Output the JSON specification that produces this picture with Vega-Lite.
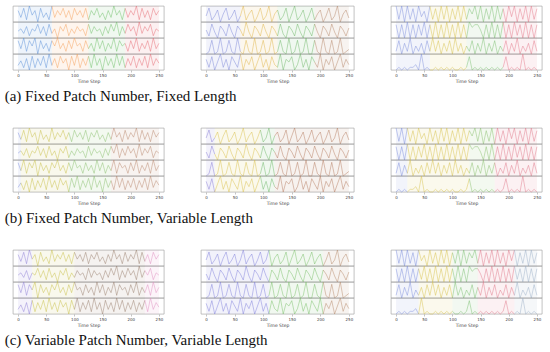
{
"$schema":"https://vega.github.io/schema/vega-lite/v6.json",
"padding":{"left":4,"top":4,"right":0,"bottom":0},
"background":"white",
"config":{"view":{"stroke":"#999","strokeWidth":0.6},"facet":{"spacing":0},
"axis":{"grid":false,"labelFontSize":4,"titleFontSize":4.5,"tickSize":2,"labelPadding":1,"titlePadding":1,"domain":false,"tickColor":"#888","tickWidth":0.5,"labelColor":"#444","titleColor":"#444","titleFontWeight":"normal","labelFont":"DejaVu Sans","titleFont":"DejaVu Sans","labelOverlap":false,"labelBound":false,"values":[0,50,100,150,200,250]}},
"datasets":{
"col1":[
{"t":0,"a":6,"b":4,"c":7,"d":3,"pa":1,"pb":1,"pc":1},
{"t":5,"a":3,"b":5,"c":4,"d":5,"pa":1,"pb":1,"pc":1},
{"t":5,"a":3,"b":5,"c":4,"d":5,"pa":1,"pb":2,"pc":1},
{"t":10,"a":7,"b":3,"c":8,"d":2,"pa":1,"pb":2,"pc":1},
{"t":15,"a":2,"b":6,"c":3,"d":6,"pa":1,"pb":2,"pc":1},
{"t":20,"a":8,"b":2,"c":7,"d":1,"pa":1,"pb":2,"pc":1},
{"t":25,"a":4,"b":5,"c":5,"d":7,"pa":1,"pb":2,"pc":1},
{"t":25,"a":4,"b":5,"c":5,"d":7,"pa":1,"pb":2,"pc":2},
{"t":30,"a":6,"b":4,"c":8,"d":2,"pa":1,"pb":2,"pc":2},
{"t":35,"a":1,"b":7,"c":2,"d":6,"pa":1,"pb":2,"pc":2},
{"t":40,"a":7,"b":3,"c":7,"d":3,"pa":1,"pb":2,"pc":2},
{"t":45,"a":3,"b":6,"c":4,"d":7,"pa":1,"pb":2,"pc":2},
{"t":50,"a":5,"b":2,"c":6,"d":2,"pa":1,"pb":2,"pc":2},
{"t":55,"a":2,"b":7,"c":3,"d":8,"pa":1,"pb":2,"pc":2},
{"t":60,"a":8,"b":3,"c":7,"d":3,"pa":1,"pb":2,"pc":2},
{"t":60,"a":8,"b":3,"c":7,"d":3,"pa":2,"pb":2,"pc":2},
{"t":65,"a":3,"b":5,"c":5,"d":6,"pa":2,"pb":2,"pc":2},
{"t":70,"a":6,"b":1,"c":8,"d":2,"pa":2,"pb":2,"pc":2},
{"t":75,"a":4,"b":6,"c":4,"d":7,"pa":2,"pb":2,"pc":2},
{"t":80,"a":7,"b":4,"c":6,"d":4,"pa":2,"pb":2,"pc":2},
{"t":85,"a":3,"b":7,"c":3,"d":6,"pa":2,"pb":2,"pc":2},
{"t":90,"a":6,"b":2,"c":7,"d":1,"pa":2,"pb":2,"pc":2},
{"t":90,"a":6,"b":2,"c":7,"d":1,"pa":2,"pb":3,"pc":2},
{"t":95,"a":2,"b":5,"c":4,"d":7,"pa":2,"pb":3,"pc":2},
{"t":100,"a":7,"b":3,"c":8,"d":3,"pa":2,"pb":3,"pc":2},
{"t":100,"a":7,"b":3,"c":8,"d":3,"pa":2,"pb":3,"pc":3},
{"t":105,"a":4,"b":6,"c":5,"d":8,"pa":2,"pb":3,"pc":3},
{"t":110,"a":6,"b":4,"c":6,"d":2,"pa":2,"pb":3,"pc":3},
{"t":115,"a":3,"b":5,"c":3,"d":6,"pa":2,"pb":3,"pc":3},
{"t":120,"a":7,"b":2,"c":7,"d":3,"pa":2,"pb":3,"pc":3},
{"t":125,"a":2,"b":7,"c":4,"d":7,"pa":2,"pb":3,"pc":3},
{"t":125,"a":2,"b":7,"c":4,"d":7,"pa":3,"pb":3,"pc":3},
{"t":130,"a":6,"b":3,"c":6,"d":2,"pa":3,"pb":3,"pc":3},
{"t":135,"a":4,"b":6,"c":3,"d":8,"pa":3,"pb":3,"pc":3},
{"t":140,"a":7,"b":4,"c":8,"d":3,"pa":3,"pb":3,"pc":3},
{"t":145,"a":3,"b":5,"c":4,"d":6,"pa":3,"pb":3,"pc":3},
{"t":150,"a":5,"b":2,"c":7,"d":1,"pa":3,"pb":3,"pc":3},
{"t":155,"a":2,"b":6,"c":3,"d":7,"pa":3,"pb":3,"pc":3},
{"t":160,"a":6,"b":3,"c":6,"d":3,"pa":3,"pb":3,"pc":3},
{"t":165,"a":3,"b":7,"c":4,"d":6,"pa":3,"pb":3,"pc":3},
{"t":165,"a":3,"b":7,"c":4,"d":6,"pa":3,"pb":4,"pc":3},
{"t":170,"a":8,"b":4,"c":8,"d":2,"pa":3,"pb":4,"pc":3},
{"t":175,"a":4,"b":8,"c":3,"d":8,"pa":3,"pb":4,"pc":3},
{"t":180,"a":6,"b":2,"c":7,"d":3,"pa":3,"pb":4,"pc":3},
{"t":185,"a":2,"b":6,"c":5,"d":7,"pa":3,"pb":4,"pc":3},
{"t":190,"a":7,"b":3,"c":6,"d":2,"pa":3,"pb":4,"pc":3},
{"t":190,"a":7,"b":3,"c":6,"d":2,"pa":4,"pb":4,"pc":3},
{"t":195,"a":3,"b":7,"c":3,"d":6,"pa":4,"pb":4,"pc":3},
{"t":200,"a":6,"b":4,"c":7,"d":3,"pa":4,"pb":4,"pc":3},
{"t":205,"a":4,"b":6,"c":4,"d":7,"pa":4,"pb":4,"pc":3},
{"t":210,"a":8,"b":2,"c":8,"d":2,"pa":4,"pb":4,"pc":3},
{"t":215,"a":2,"b":8,"c":3,"d":6,"pa":4,"pb":4,"pc":3},
{"t":220,"a":7,"b":3,"c":6,"d":3,"pa":4,"pb":4,"pc":3},
{"t":225,"a":3,"b":6,"c":4,"d":7,"pa":4,"pb":4,"pc":3},
{"t":225,"a":3,"b":6,"c":4,"d":7,"pa":4,"pb":4,"pc":4},
{"t":230,"a":6,"b":4,"c":7,"d":2,"pa":4,"pb":4,"pc":4},
{"t":235,"a":2,"b":7,"c":3,"d":8,"pa":4,"pb":4,"pc":4},
{"t":240,"a":7,"b":2,"c":8,"d":3,"pa":4,"pb":4,"pc":4},
{"t":245,"a":4,"b":5,"c":4,"d":6,"pa":4,"pb":4,"pc":4},
{"t":250,"a":6,"b":4,"c":6,"d":4,"pa":4,"pb":4,"pc":4}
],
"col2":[
{"t":0,"a":4,"b":5,"c":2,"d":6,"pa":1,"pb":1,"pc":1},
{"t":5,"a":8,"b":2,"c":3,"d":3,"pa":1,"pb":1,"pc":1},
{"t":10,"a":2,"b":8,"c":8,"d":7,"pa":1,"pb":1,"pc":1},
{"t":15,"a":4,"b":4,"c":2,"d":2,"pa":1,"pb":1,"pc":1},
{"t":15,"a":4,"b":4,"c":2,"d":2,"pa":1,"pb":2,"pc":1},
{"t":20,"a":7,"b":1,"c":3,"d":5,"pa":1,"pb":2,"pc":1},
{"t":25,"a":1,"b":7,"c":9,"d":8,"pa":1,"pb":2,"pc":1},
{"t":30,"a":5,"b":5,"c":2,"d":3,"pa":1,"pb":2,"pc":1},
{"t":35,"a":8,"b":2,"c":3,"d":6,"pa":1,"pb":2,"pc":1},
{"t":40,"a":2,"b":8,"c":8,"d":2,"pa":1,"pb":2,"pc":1},
{"t":45,"a":4,"b":4,"c":3,"d":7,"pa":1,"pb":2,"pc":1},
{"t":50,"a":7,"b":1,"c":2,"d":5,"pa":1,"pb":2,"pc":1},
{"t":55,"a":1,"b":7,"c":9,"d":3,"pa":1,"pb":2,"pc":1},
{"t":60,"a":4,"b":5,"c":3,"d":8,"pa":1,"pb":2,"pc":1},
{"t":60,"a":4,"b":5,"c":3,"d":8,"pa":2,"pb":2,"pc":1},
{"t":65,"a":9,"b":2,"c":2,"d":2,"pa":2,"pb":2,"pc":1},
{"t":70,"a":2,"b":9,"c":8,"d":6,"pa":2,"pb":2,"pc":1},
{"t":75,"a":5,"b":4,"c":3,"d":4,"pa":2,"pb":2,"pc":1},
{"t":80,"a":7,"b":1,"c":2,"d":7,"pa":2,"pb":2,"pc":1},
{"t":85,"a":1,"b":7,"c":9,"d":2,"pa":2,"pb":2,"pc":1},
{"t":90,"a":4,"b":5,"c":2,"d":5,"pa":2,"pb":2,"pc":1},
{"t":95,"a":8,"b":2,"c":3,"d":8,"pa":2,"pb":2,"pc":1},
{"t":95,"a":8,"b":2,"c":3,"d":8,"pa":2,"pb":3,"pc":1},
{"t":100,"a":2,"b":8,"c":8,"d":3,"pa":2,"pb":3,"pc":1},
{"t":105,"a":4,"b":4,"c":2,"d":6,"pa":2,"pb":3,"pc":1},
{"t":110,"a":9,"b":1,"c":3,"d":2,"pa":2,"pb":3,"pc":1},
{"t":110,"a":9,"b":1,"c":3,"d":2,"pa":2,"pb":3,"pc":2},
{"t":115,"a":1,"b":7,"c":9,"d":7,"pa":2,"pb":3,"pc":2},
{"t":120,"a":5,"b":5,"c":2,"d":4,"pa":2,"pb":3,"pc":2},
{"t":120,"a":5,"b":5,"c":2,"d":4,"pa":2,"pb":4,"pc":2},
{"t":125,"a":7,"b":2,"c":3,"d":3,"pa":2,"pb":4,"pc":2},
{"t":125,"a":7,"b":2,"c":3,"d":3,"pa":3,"pb":4,"pc":2},
{"t":130,"a":2,"b":8,"c":8,"d":8,"pa":3,"pb":4,"pc":2},
{"t":135,"a":4,"b":3,"c":3,"d":2,"pa":3,"pb":4,"pc":2},
{"t":140,"a":8,"b":1,"c":2,"d":6,"pa":3,"pb":4,"pc":2},
{"t":145,"a":1,"b":7,"c":9,"d":5,"pa":3,"pb":4,"pc":2},
{"t":150,"a":5,"b":5,"c":2,"d":7,"pa":3,"pb":4,"pc":2},
{"t":155,"a":9,"b":2,"c":3,"d":2,"pa":3,"pb":4,"pc":2},
{"t":160,"a":2,"b":8,"c":8,"d":4,"pa":3,"pb":4,"pc":2},
{"t":165,"a":4,"b":4,"c":2,"d":8,"pa":3,"pb":4,"pc":2},
{"t":170,"a":7,"b":1,"c":3,"d":3,"pa":3,"pb":4,"pc":2},
{"t":175,"a":1,"b":7,"c":9,"d":6,"pa":3,"pb":4,"pc":2},
{"t":180,"a":4,"b":5,"c":2,"d":2,"pa":3,"pb":4,"pc":2},
{"t":185,"a":8,"b":2,"c":2,"d":7,"pa":3,"pb":4,"pc":2},
{"t":190,"a":2,"b":8,"c":8,"d":5,"pa":3,"pb":4,"pc":2},
{"t":190,"a":2,"b":8,"c":8,"d":5,"pa":4,"pb":4,"pc":2},
{"t":195,"a":5,"b":4,"c":3,"d":3,"pa":4,"pb":4,"pc":2},
{"t":200,"a":7,"b":1,"c":2,"d":8,"pa":4,"pb":4,"pc":2},
{"t":205,"a":1,"b":7,"c":9,"d":2,"pa":4,"pb":4,"pc":2},
{"t":205,"a":1,"b":7,"c":9,"d":2,"pa":4,"pb":4,"pc":3},
{"t":210,"a":4,"b":5,"c":3,"d":6,"pa":4,"pb":4,"pc":3},
{"t":215,"a":8,"b":2,"c":2,"d":4,"pa":4,"pb":4,"pc":3},
{"t":220,"a":2,"b":8,"c":8,"d":7,"pa":4,"pb":4,"pc":3},
{"t":225,"a":4,"b":4,"c":2,"d":2,"pa":4,"pb":4,"pc":3},
{"t":230,"a":9,"b":1,"c":3,"d":5,"pa":4,"pb":4,"pc":3},
{"t":235,"a":1,"b":7,"c":9,"d":8,"pa":4,"pb":4,"pc":3},
{"t":240,"a":5,"b":5,"c":2,"d":3,"pa":4,"pb":4,"pc":3},
{"t":245,"a":7,"b":2,"c":3,"d":6,"pa":4,"pb":4,"pc":3},
{"t":250,"a":3,"b":6,"c":4,"d":4,"pa":4,"pb":4,"pc":3}
],
"col3":[
{"t":0,"a":8,"b":7,"c":3,"d":2,"pa":1,"pb":1,"pc":1},
{"t":5,"a":3,"b":2,"c":7,"d":3,"pa":1,"pb":1,"pc":1},
{"t":10,"a":8,"b":7,"c":2,"d":2,"pa":1,"pb":1,"pc":1},
{"t":15,"a":2,"b":2,"c":6,"d":3,"pa":1,"pb":1,"pc":1},
{"t":20,"a":8,"b":8,"c":3,"d":2,"pa":1,"pb":1,"pc":1},
{"t":20,"a":8,"b":8,"c":3,"d":2,"pa":1,"pb":2,"pc":1},
{"t":25,"a":3,"b":2,"c":8,"d":3,"pa":1,"pb":2,"pc":1},
{"t":30,"a":7,"b":7,"c":2,"d":3,"pa":1,"pb":2,"pc":1},
{"t":35,"a":2,"b":2,"c":5,"d":4,"pa":1,"pb":2,"pc":1},
{"t":40,"a":8,"b":7,"c":3,"d":2,"pa":1,"pb":2,"pc":1},
{"t":40,"a":8,"b":7,"c":3,"d":2,"pa":1,"pb":2,"pc":2},
{"t":45,"a":4,"b":3,"c":6,"d":8,"pa":1,"pb":2,"pc":2},
{"t":50,"a":6,"b":8,"c":2,"d":2,"pa":1,"pb":2,"pc":2},
{"t":55,"a":2,"b":2,"c":7,"d":3,"pa":1,"pb":2,"pc":2},
{"t":60,"a":8,"b":7,"c":3,"d":2,"pa":1,"pb":2,"pc":2},
{"t":60,"a":8,"b":7,"c":3,"d":2,"pa":2,"pb":2,"pc":2},
{"t":65,"a":3,"b":2,"c":8,"d":2,"pa":2,"pb":2,"pc":2},
{"t":70,"a":7,"b":8,"c":3,"d":3,"pa":2,"pb":2,"pc":2},
{"t":75,"a":2,"b":2,"c":7,"d":2,"pa":2,"pb":2,"pc":2},
{"t":80,"a":8,"b":7,"c":2,"d":3,"pa":2,"pb":2,"pc":2},
{"t":85,"a":3,"b":2,"c":6,"d":2,"pa":2,"pb":2,"pc":2},
{"t":90,"a":8,"b":8,"c":3,"d":3,"pa":2,"pb":2,"pc":2},
{"t":95,"a":2,"b":2,"c":7,"d":2,"pa":2,"pb":2,"pc":2},
{"t":100,"a":7,"b":7,"c":2,"d":3,"pa":2,"pb":2,"pc":2},
{"t":100,"a":7,"b":7,"c":2,"d":3,"pa":2,"pb":2,"pc":3},
{"t":105,"a":3,"b":2,"c":8,"d":2,"pa":2,"pb":2,"pc":3},
{"t":110,"a":8,"b":8,"c":3,"d":2,"pa":2,"pb":2,"pc":3},
{"t":115,"a":2,"b":2,"c":6,"d":3,"pa":2,"pb":2,"pc":3},
{"t":120,"a":8,"b":7,"c":2,"d":2,"pa":2,"pb":2,"pc":3},
{"t":125,"a":3,"b":2,"c":5,"d":3,"pa":2,"pb":2,"pc":3},
{"t":125,"a":3,"b":2,"c":5,"d":3,"pa":3,"pb":2,"pc":3},
{"t":130,"a":7,"b":8,"c":3,"d":7,"pa":3,"pb":2,"pc":3},
{"t":130,"a":7,"b":8,"c":3,"d":7,"pa":3,"pb":3,"pc":3},
{"t":135,"a":5,"b":6,"c":7,"d":2,"pa":3,"pb":3,"pc":3},
{"t":140,"a":8,"b":7,"c":2,"d":3,"pa":3,"pb":3,"pc":3},
{"t":145,"a":3,"b":7,"c":6,"d":2,"pa":3,"pb":3,"pc":3},
{"t":145,"a":3,"b":7,"c":6,"d":2,"pa":3,"pb":3,"pc":4},
{"t":150,"a":8,"b":5,"c":3,"d":3,"pa":3,"pb":3,"pc":4},
{"t":155,"a":2,"b":2,"c":8,"d":2,"pa":3,"pb":3,"pc":4},
{"t":160,"a":7,"b":7,"c":2,"d":3,"pa":3,"pb":3,"pc":4},
{"t":165,"a":3,"b":2,"c":6,"d":2,"pa":3,"pb":3,"pc":4},
{"t":170,"a":8,"b":8,"c":3,"d":3,"pa":3,"pb":3,"pc":4},
{"t":175,"a":2,"b":2,"c":7,"d":2,"pa":3,"pb":3,"pc":4},
{"t":175,"a":2,"b":2,"c":7,"d":2,"pa":3,"pb":4,"pc":4},
{"t":180,"a":8,"b":7,"c":2,"d":3,"pa":3,"pb":4,"pc":4},
{"t":185,"a":3,"b":2,"c":5,"d":2,"pa":3,"pb":4,"pc":4},
{"t":190,"a":7,"b":8,"c":3,"d":3,"pa":3,"pb":4,"pc":4},
{"t":190,"a":7,"b":8,"c":3,"d":3,"pa":4,"pb":4,"pc":4},
{"t":195,"a":2,"b":2,"c":7,"d":7,"pa":4,"pb":4,"pc":4},
{"t":200,"a":8,"b":7,"c":2,"d":2,"pa":4,"pb":4,"pc":4},
{"t":205,"a":4,"b":2,"c":6,"d":3,"pa":4,"pb":4,"pc":4},
{"t":210,"a":8,"b":8,"c":3,"d":2,"pa":4,"pb":4,"pc":4},
{"t":210,"a":8,"b":8,"c":3,"d":2,"pa":4,"pb":4,"pc":5},
{"t":215,"a":2,"b":3,"c":8,"d":3,"pa":4,"pb":4,"pc":5},
{"t":220,"a":7,"b":7,"c":2,"d":2,"pa":4,"pb":4,"pc":5},
{"t":225,"a":3,"b":2,"c":5,"d":8,"pa":4,"pb":4,"pc":5},
{"t":230,"a":8,"b":8,"c":3,"d":2,"pa":4,"pb":4,"pc":5},
{"t":235,"a":2,"b":2,"c":6,"d":3,"pa":4,"pb":4,"pc":5},
{"t":240,"a":8,"b":7,"c":2,"d":2,"pa":4,"pb":4,"pc":5},
{"t":245,"a":3,"b":2,"c":7,"d":3,"pa":4,"pb":4,"pc":5},
{"t":250,"a":7,"b":7,"c":3,"d":2,"pa":4,"pb":4,"pc":5}
]},
"resolve":{"scale":{"color":"independent"}},
"spacing":22,
"vconcat":[
{"spacing":35,"resolve":{"scale":{"color":"independent"}},
"title":{"text":"(a) Fixed Patch Number, Fixed Length","orient":"bottom","anchor":"start","font":"Liberation Serif","fontSize":15,"fontWeight":"normal","color":"#111","offset":6,"dx":-8},
"hconcat":[
{"data":{"name":"col1"},"transform":[{"fold":["a","b","c","d"],"as":["s","v"]}],"facet":{"row":{"field":"s","type":"nominal","header":null}},"spacing":0,"bounds":"flush","resolve":{"scale":{"y":"independent"}},
"spec":{"width":151,"height":16,"layer":[
{"transform":[{"aggregate":[{"op":"min","field":"t","as":"t0"},{"op":"max","field":"t","as":"t1"}],"groupby":["pa","s"]}],"mark":{"type":"rect","opacity":0.1},"encoding":{"x":{"field":"t0","type":"quantitative","title":"Time Step"},"x2":{"field":"t1"},"color":{"field":"pa","type":"nominal","legend":null,"scale":{"range":["#5b8fd6","#f5a05a","#6fbf6a","#e56b73"]}}}},
{"mark":{"type":"line","strokeWidth":0.6,"opacity":0.8},"encoding":{"x":{"field":"t","type":"quantitative","title":"Time Step","scale":{"domain":[-9,259],"nice":false,"zero":false}},"y":{"field":"v","type":"quantitative","axis":null,"scale":{"zero":false}},"color":{"field":"pa","type":"nominal","legend":null,"scale":{"range":["#5b8fd6","#f5a05a","#6fbf6a","#e56b73"]}}}}]}},
{"data":{"name":"col2"},"transform":[{"fold":["a","b","c","d"],"as":["s","v"]}],"facet":{"row":{"field":"s","type":"nominal","header":null}},"spacing":0,"bounds":"flush","resolve":{"scale":{"y":"independent"}},
"spec":{"width":153,"height":16,"layer":[
{"transform":[{"aggregate":[{"op":"min","field":"t","as":"t0"},{"op":"max","field":"t","as":"t1"}],"groupby":["pa","s"]}],"mark":{"type":"rect","opacity":0.1},"encoding":{"x":{"field":"t0","type":"quantitative","title":"Time Step"},"x2":{"field":"t1"},"color":{"field":"pa","type":"nominal","legend":null,"scale":{"range":["#7c86d8","#e0b54a","#6fb86a","#b5876a"]}}}},
{"mark":{"type":"line","strokeWidth":0.6,"opacity":0.8},"encoding":{"x":{"field":"t","type":"quantitative","title":"Time Step","scale":{"domain":[-9,259],"nice":false,"zero":false}},"y":{"field":"v","type":"quantitative","axis":null,"scale":{"zero":false}},"color":{"field":"pa","type":"nominal","legend":null,"scale":{"range":["#7c86d8","#e0b54a","#6fb86a","#b5876a"]}}}}]}},
{"data":{"name":"col3"},"transform":[{"fold":["a","b","c","d"],"as":["s","v"]}],"facet":{"row":{"field":"s","type":"nominal","header":null}},"spacing":0,"bounds":"flush","resolve":{"scale":{"y":"independent"}},
"spec":{"width":151,"height":16,"layer":[
{"transform":[{"aggregate":[{"op":"min","field":"t","as":"t0"},{"op":"max","field":"t","as":"t1"}],"groupby":["pa","s"]}],"mark":{"type":"rect","opacity":0.1},"encoding":{"x":{"field":"t0","type":"quantitative","title":"Time Step"},"x2":{"field":"t1"},"color":{"field":"pa","type":"nominal","legend":null,"scale":{"range":["#7f8fdc","#d8c24e","#7cbf72","#e37a8c"]}}}},
{"mark":{"type":"line","strokeWidth":0.6,"opacity":0.8},"encoding":{"x":{"field":"t","type":"quantitative","title":"Time Step","scale":{"domain":[-9,259],"nice":false,"zero":false}},"y":{"field":"v","type":"quantitative","axis":null,"scale":{"zero":false}},"color":{"field":"pa","type":"nominal","legend":null,"scale":{"range":["#7f8fdc","#d8c24e","#7cbf72","#e37a8c"]}}}}]}}
]},
{"spacing":35,"resolve":{"scale":{"color":"independent"}},
"title":{"text":"(b) Fixed Patch Number, Variable Length","orient":"bottom","anchor":"start","font":"Liberation Serif","fontSize":15,"fontWeight":"normal","color":"#111","offset":6,"dx":-8},
"hconcat":[
{"data":{"name":"col1"},"transform":[{"fold":["a","b","c","d"],"as":["s","v"]}],"facet":{"row":{"field":"s","type":"nominal","header":null}},"spacing":0,"bounds":"flush","resolve":{"scale":{"y":"independent"}},
"spec":{"width":151,"height":16,"layer":[
{"transform":[{"aggregate":[{"op":"min","field":"t","as":"t0"},{"op":"max","field":"t","as":"t1"}],"groupby":["pb","s"]}],"mark":{"type":"rect","opacity":0.1},"encoding":{"x":{"field":"t0","type":"quantitative","title":"Time Step"},"x2":{"field":"t1"},"color":{"field":"pb","type":"nominal","legend":null,"scale":{"range":["#7f8fdc","#c9bf4a","#8cc070","#b98a70"]}}}},
{"mark":{"type":"line","strokeWidth":0.6,"opacity":0.8},"encoding":{"x":{"field":"t","type":"quantitative","title":"Time Step","scale":{"domain":[-9,259],"nice":false,"zero":false}},"y":{"field":"v","type":"quantitative","axis":null,"scale":{"zero":false}},"color":{"field":"pb","type":"nominal","legend":null,"scale":{"range":["#7f8fdc","#c9bf4a","#8cc070","#b98a70"]}}}}]}},
{"data":{"name":"col2"},"transform":[{"fold":["a","b","c","d"],"as":["s","v"]}],"facet":{"row":{"field":"s","type":"nominal","header":null}},"spacing":0,"bounds":"flush","resolve":{"scale":{"y":"independent"}},
"spec":{"width":153,"height":16,"layer":[
{"transform":[{"aggregate":[{"op":"min","field":"t","as":"t0"},{"op":"max","field":"t","as":"t1"}],"groupby":["pb","s"]}],"mark":{"type":"rect","opacity":0.1},"encoding":{"x":{"field":"t0","type":"quantitative","title":"Time Step"},"x2":{"field":"t1"},"color":{"field":"pb","type":"nominal","legend":null,"scale":{"range":["#8a7fd4","#d9c04c","#6fb86a","#b57d60"]}}}},
{"mark":{"type":"line","strokeWidth":0.6,"opacity":0.8},"encoding":{"x":{"field":"t","type":"quantitative","title":"Time Step","scale":{"domain":[-9,259],"nice":false,"zero":false}},"y":{"field":"v","type":"quantitative","axis":null,"scale":{"zero":false}},"color":{"field":"pb","type":"nominal","legend":null,"scale":{"range":["#8a7fd4","#d9c04c","#6fb86a","#b57d60"]}}}}]}},
{"data":{"name":"col3"},"transform":[{"fold":["a","b","c","d"],"as":["s","v"]}],"facet":{"row":{"field":"s","type":"nominal","header":null}},"spacing":0,"bounds":"flush","resolve":{"scale":{"y":"independent"}},
"spec":{"width":151,"height":16,"layer":[
{"transform":[{"aggregate":[{"op":"min","field":"t","as":"t0"},{"op":"max","field":"t","as":"t1"}],"groupby":["pb","s"]}],"mark":{"type":"rect","opacity":0.1},"encoding":{"x":{"field":"t0","type":"quantitative","title":"Time Step"},"x2":{"field":"t1"},"color":{"field":"pb","type":"nominal","legend":null,"scale":{"range":["#7f8fdc","#d8c24e","#8cc070","#e07a8c"]}}}},
{"mark":{"type":"line","strokeWidth":0.6,"opacity":0.8},"encoding":{"x":{"field":"t","type":"quantitative","title":"Time Step","scale":{"domain":[-9,259],"nice":false,"zero":false}},"y":{"field":"v","type":"quantitative","axis":null,"scale":{"zero":false}},"color":{"field":"pb","type":"nominal","legend":null,"scale":{"range":["#7f8fdc","#d8c24e","#8cc070","#e07a8c"]}}}}]}}
]},
{"spacing":35,"resolve":{"scale":{"color":"independent"}},
"title":{"text":"(c) Variable Patch Number, Variable Length","orient":"bottom","anchor":"start","font":"Liberation Serif","fontSize":15,"fontWeight":"normal","color":"#111","offset":6,"dx":-8},
"hconcat":[
{"data":{"name":"col1"},"transform":[{"fold":["a","b","c","d"],"as":["s","v"]}],"facet":{"row":{"field":"s","type":"nominal","header":null}},"spacing":0,"bounds":"flush","resolve":{"scale":{"y":"independent"}},
"spec":{"width":151,"height":16,"layer":[
{"transform":[{"aggregate":[{"op":"min","field":"t","as":"t0"},{"op":"max","field":"t","as":"t1"}],"groupby":["pc","s"]}],"mark":{"type":"rect","opacity":0.1},"encoding":{"x":{"field":"t0","type":"quantitative","title":"Time Step"},"x2":{"field":"t1"},"color":{"field":"pc","type":"nominal","legend":null,"scale":{"range":["#8f80d4","#c9bf4a","#9a8070","#e090c0"]}}}},
{"mark":{"type":"line","strokeWidth":0.6,"opacity":0.8},"encoding":{"x":{"field":"t","type":"quantitative","title":"Time Step","scale":{"domain":[-9,259],"nice":false,"zero":false}},"y":{"field":"v","type":"quantitative","axis":null,"scale":{"zero":false}},"color":{"field":"pc","type":"nominal","legend":null,"scale":{"range":["#8f80d4","#c9bf4a","#9a8070","#e090c0"]}}}}]}},
{"data":{"name":"col2"},"transform":[{"fold":["a","b","c","d"],"as":["s","v"]}],"facet":{"row":{"field":"s","type":"nominal","header":null}},"spacing":0,"bounds":"flush","resolve":{"scale":{"y":"independent"}},
"spec":{"width":153,"height":16,"layer":[
{"transform":[{"aggregate":[{"op":"min","field":"t","as":"t0"},{"op":"max","field":"t","as":"t1"}],"groupby":["pc","s"]}],"mark":{"type":"rect","opacity":0.1},"encoding":{"x":{"field":"t0","type":"quantitative","title":"Time Step"},"x2":{"field":"t1"},"color":{"field":"pc","type":"nominal","legend":null,"scale":{"range":["#8080dc","#7abf6a","#b58a6a"]}}}},
{"mark":{"type":"line","strokeWidth":0.6,"opacity":0.8},"encoding":{"x":{"field":"t","type":"quantitative","title":"Time Step","scale":{"domain":[-9,259],"nice":false,"zero":false}},"y":{"field":"v","type":"quantitative","axis":null,"scale":{"zero":false}},"color":{"field":"pc","type":"nominal","legend":null,"scale":{"range":["#8080dc","#7abf6a","#b58a6a"]}}}}]}},
{"data":{"name":"col3"},"transform":[{"fold":["a","b","c","d"],"as":["s","v"]}],"facet":{"row":{"field":"s","type":"nominal","header":null}},"spacing":0,"bounds":"flush","resolve":{"scale":{"y":"independent"}},
"spec":{"width":151,"height":16,"layer":[
{"transform":[{"aggregate":[{"op":"min","field":"t","as":"t0"},{"op":"max","field":"t","as":"t1"}],"groupby":["pc","s"]}],"mark":{"type":"rect","opacity":0.1},"encoding":{"x":{"field":"t0","type":"quantitative","title":"Time Step"},"x2":{"field":"t1"},"color":{"field":"pc","type":"nominal","legend":null,"scale":{"range":["#7f8fdc","#d8c24e","#7cbf72","#e07a8c","#9fb0c8"]}}}},
{"mark":{"type":"line","strokeWidth":0.6,"opacity":0.8},"encoding":{"x":{"field":"t","type":"quantitative","title":"Time Step","scale":{"domain":[-9,259],"nice":false,"zero":false}},"y":{"field":"v","type":"quantitative","axis":null,"scale":{"zero":false}},"color":{"field":"pc","type":"nominal","legend":null,"scale":{"range":["#7f8fdc","#d8c24e","#7cbf72","#e07a8c","#9fb0c8"]}}}}]}}
]}
]
}
